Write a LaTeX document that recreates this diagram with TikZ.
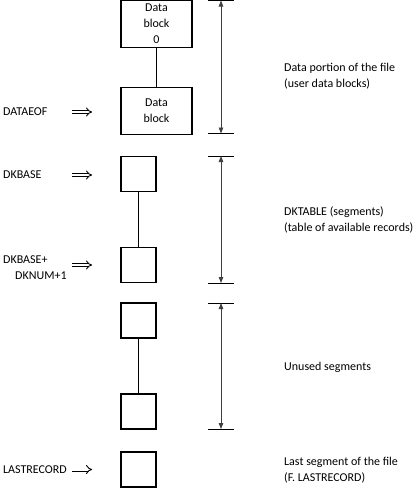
\documentclass[tikz,border=0pt]{standalone}
\usepackage{fontspec}
\setmainfont{Carlito}
\usetikzlibrary{arrows.meta}

\tikzset{
  blk/.style={draw, line width=1.8pt, minimum width=71pt, minimum height=47pt, inner sep=0pt, align=center},
  seg/.style={draw, line width=1.8pt, minimum width=35pt, minimum height=35pt, inner sep=0pt},
  lbl/.style={anchor=west, inner sep=0pt, align=left},
  pointer/.style={double, double distance=2.2pt, line width=0.9pt, -{Implies}},
  span/.style={line width=0.8pt, black!75, {Triangle[length=6pt,width=4.5pt]}-{Triangle[length=6pt,width=4.5pt]}},
  tick/.style={line width=0.8pt}
}

\begin{document}
\begin{tikzpicture}[x=1pt, y=-1pt, font=\fontsize{12}{16}\selectfont]
				\useasboundingbox (0,0) rectangle (419,488);
				
				\node[blk] (d0) at (156.5,24) {Data\\block\\0};
				\node[blk] (d1) at (156.5,111) {Data\\block};
				\draw[line width=0.8pt] (d0) -- (d1);
				
				\node[seg] (s0) at (138.5,174) {};
				\node[seg] (s1) at (138.5,265) {};
				\draw[line width=0.8pt] (s0) -- (s1);
				
				\node[seg] (u0) at (138.5,320.5) {};
				\node[seg] (u1) at (138.5,411.5) {};
				\draw[line width=0.8pt] (u0) -- (u1);
				
				\node[seg] (last) at (138.5,469.5) {};
				
				\node[lbl] (eof) at (3,112) {DATAEOF};
				\node[lbl] (base) at (3,175) {DKBASE};
				\node[lbl] (num) at (3,267.5) {DKBASE+\\\hspace*{12pt}DKNUM+1};
				\node[lbl] (lrec) at (3,470) {LASTRECORD};
				
				\draw[pointer] ([xshift=-48pt]d1.west |- eof) -- ([xshift=-28pt]d1.west |- eof);
				\draw[pointer] ([xshift=-48pt]s0.west |- base) -- ([xshift=-28pt]s0.west |- base);
				\draw[pointer] ([xshift=-48pt]s1.west) -- ([xshift=-28pt]s1.west);
				\draw[pointer] ([xshift=-48pt]last.west) -- ([xshift=-28pt]last.west);
				
				\coordinate (a0) at (221,0.5);
				\coordinate (a1) at (221,133.5);
				\coordinate (b0) at (221,156);
				\coordinate (b1) at (221,283);
				\coordinate (c0) at (221,303);
				\coordinate (c1) at (221,429);
				\foreach \p in {a0,a1,b0,b1,c0,c1}
					\draw[tick] ([xshift=-13pt]\p) -- ([xshift=13pt]\p);
				\draw[span] (a0) -- (a1);
				\draw[span] (b0) -- (b1);
				\draw[span] (c0) -- (c1);
				
				\node[lbl] (tdata) at (284,76) {Data portion of the file\\(user data blocks)};
				\node[lbl] (ttab) at (284,220) {DKTABLE (segments)\\(table of available records)};
				\node[lbl] (tun) at (284,367) {Unused segments};
				\node[lbl] (tlast) at (284,470) {Last segment of the file\\(F. LASTRECORD)};
			\end{tikzpicture}
\end{document}
